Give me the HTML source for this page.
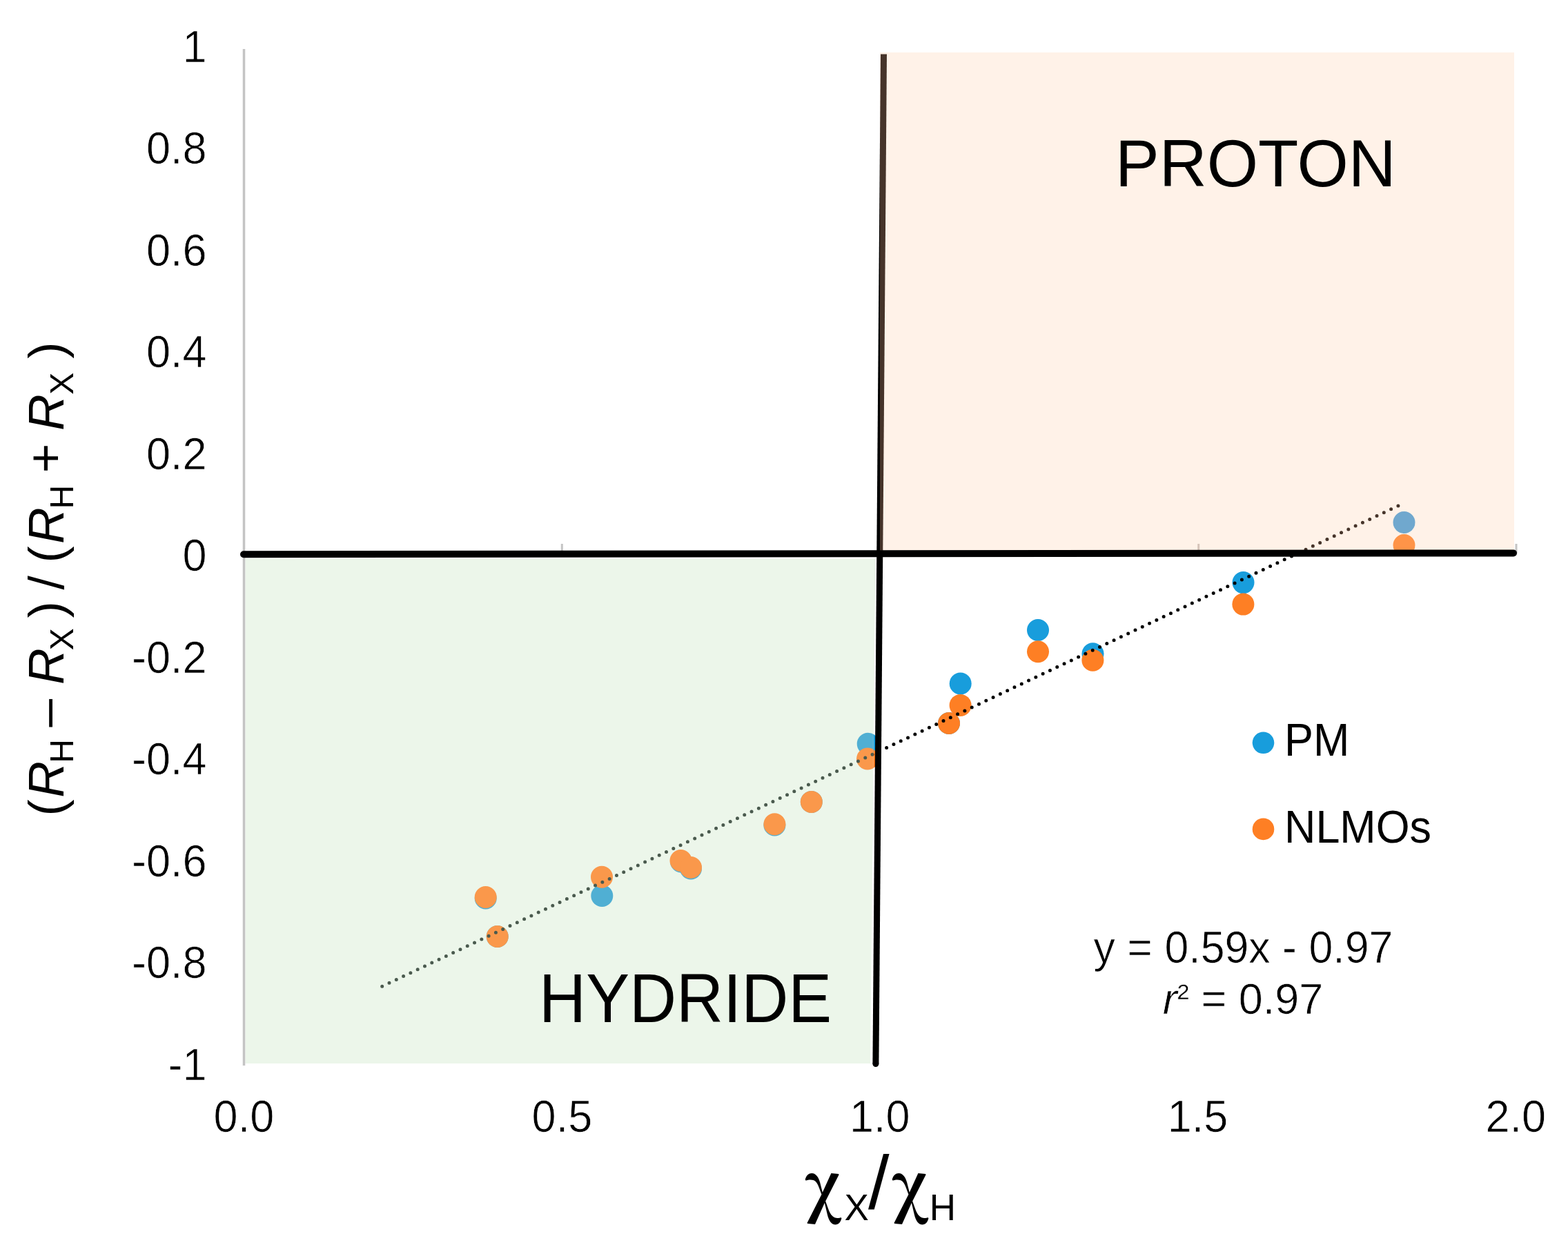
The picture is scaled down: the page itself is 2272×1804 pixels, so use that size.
<!DOCTYPE html>
<html>
<head>
<meta charset="utf-8">
<title>Hydride vs proton character</title>
<style>
html,body{margin:0;padding:0;background:#fff;}
body{width:2272px;height:1804px;overflow:hidden;}
svg{display:block;}
text{font-family:"Liberation Sans",Arial,sans-serif;fill:#000;}
.chi{font-family:"Noto Serif CJK SC","Liberation Serif",serif;}
</style>
</head>
<body>
<svg width="2272" height="1804" viewBox="0 0 2272 1804">
<defs>
<clipPath id="cw"><path clip-rule="evenodd" d="M0 0H2272V1804H0Z M1275 76H2194V797.5H1275Z M355.5 809.5L1268.5 809.5L1261 1541L355.5 1541Z"/></clipPath>
<clipPath id="cp"><path d="M1275 76H2194V797.5H1275Z"/></clipPath>
<clipPath id="cg"><path d="M355.5 809.5L1268.5 809.5L1261 1541L355.5 1541Z"/></clipPath>
</defs>
<rect x="0" y="0" width="2272" height="1804" fill="#fff"/>
<path d="M1275 76H2194V797.5H1275Z" fill="#fff2e8"/>
<path d="M355.5 809.5L1268.5 809.5L1261 1541L355.5 1541Z" fill="#ecf6ea"/>
<line x1="353.5" y1="71" x2="353.5" y2="1544" stroke="#c4c4c4" stroke-width="3.5"/>
<g clip-path="url(#cw)">
<g stroke="#c4c4c4" stroke-width="3">
<line x1="814.3" y1="788" x2="814.3" y2="802"/>
<line x1="1736.7" y1="788" x2="1736.7" y2="802"/>
<line x1="2197" y1="788" x2="2197" y2="802"/>
</g>
<g fill="#189ddc">
<circle cx="703.7" cy="1301.5" r="16"/>
<circle cx="720.7" cy="1357" r="16"/>
<circle cx="872.3" cy="1298" r="16"/>
<circle cx="987" cy="1248.5" r="16"/>
<circle cx="1001" cy="1258.5" r="16"/>
<circle cx="1122.4" cy="1195.5" r="16"/>
<circle cx="1175.8" cy="1162" r="16"/>
<circle cx="1257.7" cy="1077.7" r="16"/>
<circle cx="1375" cy="1048" r="16"/>
<circle cx="1391.7" cy="990.5" r="16"/>
<circle cx="1504" cy="913" r="16"/>
<circle cx="1583.5" cy="947.3" r="16"/>
<circle cx="1801.5" cy="844.1" r="16"/>
<circle cx="2034.5" cy="757" r="16"/>
</g>
<g fill="#fe7f24">
<circle cx="703.7" cy="1300" r="16"/>
<circle cx="720.7" cy="1357" r="16"/>
<circle cx="872" cy="1270.8" r="16"/>
<circle cx="986.5" cy="1247" r="16"/>
<circle cx="1001" cy="1257" r="16"/>
<circle cx="1122.4" cy="1194.2" r="16"/>
<circle cx="1175.8" cy="1162" r="16"/>
<circle cx="1257" cy="1099.5" r="16"/>
<circle cx="1391.6" cy="1021.9" r="16"/>
<circle cx="1375" cy="1048" r="16"/>
<circle cx="1504" cy="944.3" r="16"/>
<circle cx="1583.4" cy="956.8" r="16"/>
<circle cx="1801.4" cy="875.6" r="16"/>
<circle cx="2034.5" cy="790" r="16"/>
</g>
<line x1="553.7" y1="1429.2" x2="2025.9" y2="732.9" stroke="#000000" stroke-width="5" stroke-linecap="round" stroke-dasharray="0 11.3885"/>
<line x1="1280.5" y1="78.5" x2="1268.9" y2="1541.5" stroke="#000000" stroke-width="9"/>
<circle cx="1268.9" cy="1541.5" r="4.5" fill="#000000"/>
</g>
<g clip-path="url(#cg)">
<g stroke="#b8c2b6" stroke-width="3">
<line x1="814.3" y1="788" x2="814.3" y2="802"/>
<line x1="1736.7" y1="788" x2="1736.7" y2="802"/>
<line x1="2197" y1="788" x2="2197" y2="802"/>
</g>
<g fill="#50afd3">
<circle cx="703.7" cy="1301.5" r="16"/>
<circle cx="720.7" cy="1357" r="16"/>
<circle cx="872.3" cy="1298" r="16"/>
<circle cx="987" cy="1248.5" r="16"/>
<circle cx="1001" cy="1258.5" r="16"/>
<circle cx="1122.4" cy="1195.5" r="16"/>
<circle cx="1175.8" cy="1162" r="16"/>
<circle cx="1257.7" cy="1077.7" r="16"/>
<circle cx="1375" cy="1048" r="16"/>
<circle cx="1391.7" cy="990.5" r="16"/>
<circle cx="1504" cy="913" r="16"/>
<circle cx="1583.5" cy="947.3" r="16"/>
<circle cx="1801.5" cy="844.1" r="16"/>
<circle cx="2034.5" cy="757" r="16"/>
</g>
<g fill="#fa984b">
<circle cx="703.7" cy="1300" r="16"/>
<circle cx="720.7" cy="1357" r="16"/>
<circle cx="872" cy="1270.8" r="16"/>
<circle cx="986.5" cy="1247" r="16"/>
<circle cx="1001" cy="1257" r="16"/>
<circle cx="1122.4" cy="1194.2" r="16"/>
<circle cx="1175.8" cy="1162" r="16"/>
<circle cx="1257" cy="1099.5" r="16"/>
<circle cx="1391.6" cy="1021.9" r="16"/>
<circle cx="1375" cy="1048" r="16"/>
<circle cx="1504" cy="944.3" r="16"/>
<circle cx="1583.4" cy="956.8" r="16"/>
<circle cx="1801.4" cy="875.6" r="16"/>
<circle cx="2034.5" cy="790" r="16"/>
</g>
<line x1="553.7" y1="1429.2" x2="2025.9" y2="732.9" stroke="#4a5a4e" stroke-width="5" stroke-linecap="round" stroke-dasharray="0 11.3885"/>
<line x1="1280.5" y1="78.5" x2="1268.9" y2="1541.5" stroke="#4a5a4e" stroke-width="9"/>
<circle cx="1268.9" cy="1541.5" r="4.5" fill="#4a5a4e"/>
</g>
<g clip-path="url(#cp)">
<g stroke="#d6c4b9" stroke-width="3">
<line x1="814.3" y1="788" x2="814.3" y2="802"/>
<line x1="1736.7" y1="788" x2="1736.7" y2="802"/>
<line x1="2197" y1="788" x2="2197" y2="802"/>
</g>
<g fill="#70a8ce">
<circle cx="703.7" cy="1301.5" r="16"/>
<circle cx="720.7" cy="1357" r="16"/>
<circle cx="872.3" cy="1298" r="16"/>
<circle cx="987" cy="1248.5" r="16"/>
<circle cx="1001" cy="1258.5" r="16"/>
<circle cx="1122.4" cy="1195.5" r="16"/>
<circle cx="1175.8" cy="1162" r="16"/>
<circle cx="1257.7" cy="1077.7" r="16"/>
<circle cx="1375" cy="1048" r="16"/>
<circle cx="1391.7" cy="990.5" r="16"/>
<circle cx="1504" cy="913" r="16"/>
<circle cx="1583.5" cy="947.3" r="16"/>
<circle cx="1801.5" cy="844.1" r="16"/>
<circle cx="2034.5" cy="757" r="16"/>
</g>
<g fill="#ff9448">
<circle cx="703.7" cy="1300" r="16"/>
<circle cx="720.7" cy="1357" r="16"/>
<circle cx="872" cy="1270.8" r="16"/>
<circle cx="986.5" cy="1247" r="16"/>
<circle cx="1001" cy="1257" r="16"/>
<circle cx="1122.4" cy="1194.2" r="16"/>
<circle cx="1175.8" cy="1162" r="16"/>
<circle cx="1257" cy="1099.5" r="16"/>
<circle cx="1391.6" cy="1021.9" r="16"/>
<circle cx="1375" cy="1048" r="16"/>
<circle cx="1504" cy="944.3" r="16"/>
<circle cx="1583.4" cy="956.8" r="16"/>
<circle cx="1801.4" cy="875.6" r="16"/>
<circle cx="2034.5" cy="790" r="16"/>
</g>
<line x1="553.7" y1="1429.2" x2="2025.9" y2="732.9" stroke="#46342a" stroke-width="5" stroke-linecap="round" stroke-dasharray="0 11.3885"/>
<line x1="1280.5" y1="78.5" x2="1268.9" y2="1541.5" stroke="#46342a" stroke-width="9"/>
<circle cx="1268.9" cy="1541.5" r="4.5" fill="#46342a"/>
</g>
<line x1="353" y1="803.2" x2="2193" y2="801.4" stroke="#000" stroke-width="10" stroke-linecap="round"/>
<!-- y tick labels -->
<g font-size="63" text-anchor="end" stroke="#fff" stroke-width="0.7">
<text transform="translate(299.5,89.6) scale(1,1.03)">1</text>
<text transform="translate(299.5,237.1) scale(1,1.03)">0.8</text>
<text transform="translate(299.5,384.6) scale(1,1.03)">0.6</text>
<text transform="translate(299.5,532.1) scale(1,1.03)">0.4</text>
<text transform="translate(299.5,679.6) scale(1,1.03)">0.2</text>
<text transform="translate(299.5,827.1) scale(1,1.03)">0</text>
<text transform="translate(299.5,974.6) scale(1,1.03)">-0.2</text>
<text transform="translate(299.5,1122.1) scale(1,1.03)">-0.4</text>
<text transform="translate(299.5,1269.6) scale(1,1.03)">-0.6</text>
<text transform="translate(299.5,1417.1) scale(1,1.03)">-0.8</text>
<text transform="translate(299.5,1564.6) scale(1,1.03)">-1</text>
</g>
<!-- x tick labels -->
<g font-size="63" text-anchor="middle" stroke="#fff" stroke-width="0.7">
<text transform="translate(353.4,1639.7) scale(1,1.03)">0.0</text>
<text transform="translate(814.4,1639.7) scale(1,1.03)">0.5</text>
<text transform="translate(1274.8,1639.7) scale(1,1.03)">1.0</text>
<text transform="translate(1735.6,1639.7) scale(1,1.03)">1.5</text>
<text transform="translate(2196.3,1639.7) scale(1,1.03)">2.0</text>
</g>

<!-- region labels -->
<text x="1616" y="269.8" font-size="95.5">PROTON</text>
<text transform="translate(781.1,1480.8) scale(0.992,1.049)" font-size="95">HYDRIDE</text>

<!-- legend -->
<circle cx="1830.5" cy="1076.3" r="15.8" fill="#189ddc"/>
<circle cx="1830.5" cy="1201.4" r="15.8" fill="#fe7f24"/>
<text transform="translate(1861,1094.6) scale(0.99,1.045)" font-size="63.5">PM</text>
<text transform="translate(1861,1220.7) scale(0.99,1.045)" font-size="63.5">NLMOs</text>

<!-- equation -->
<text transform="translate(1801.5,1394.6) scale(0.995,1.025)" stroke="#fff" stroke-width="0.7" font-size="63" text-anchor="middle">y = 0.59x - 0.97</text>
<text transform="translate(1801,1469.2)" stroke="#fff" stroke-width="0.7" font-size="63" text-anchor="middle"><tspan font-style="italic">r</tspan><tspan font-size="52" dy="-7.5">²</tspan><tspan dy="7.5"> = 0.97</tspan></text>

<!-- x axis title -->
<text transform="translate(1166.5,1752.8) scale(0.9,1)" font-size="97" font-weight="700" class="chi">χ</text>
<text x="1223.5" y="1767.5" font-size="53">X</text>
<text x="1258" y="1751" font-size="110">/</text>
<text transform="translate(1292.5,1752.8) scale(0.9,1)" font-size="97" font-weight="700" class="chi">χ</text>
<text x="1346.8" y="1767.5" font-size="53">H</text>

<!-- y axis title -->
<text transform="translate(92,1177) rotate(-90)" font-size="73"><tspan x="-5.5" y="0">(</tspan><tspan x="21.3" y="0" font-style="italic">R</tspan><tspan x="71.3" y="14" font-size="48">H</tspan><tspan x="123.6" y="0">–</tspan><tspan x="185.0" y="0" font-style="italic">R</tspan><tspan x="234.8" y="14" font-size="48">X</tspan><tspan x="281.4" y="0">)</tspan><tspan x="322.5" y="0">/</tspan><tspan x="361.5" y="0">(</tspan><tspan x="389.1" y="0" font-style="italic">R</tspan><tspan x="439.6" y="14" font-size="48">H</tspan><tspan x="491.7" y="-1.6">+</tspan><tspan x="553.1" y="0" font-style="italic">R</tspan><tspan x="605.3" y="14" font-size="48">X</tspan><tspan x="657.2" y="0">)</tspan></text>

</svg>
</body>
</html>
